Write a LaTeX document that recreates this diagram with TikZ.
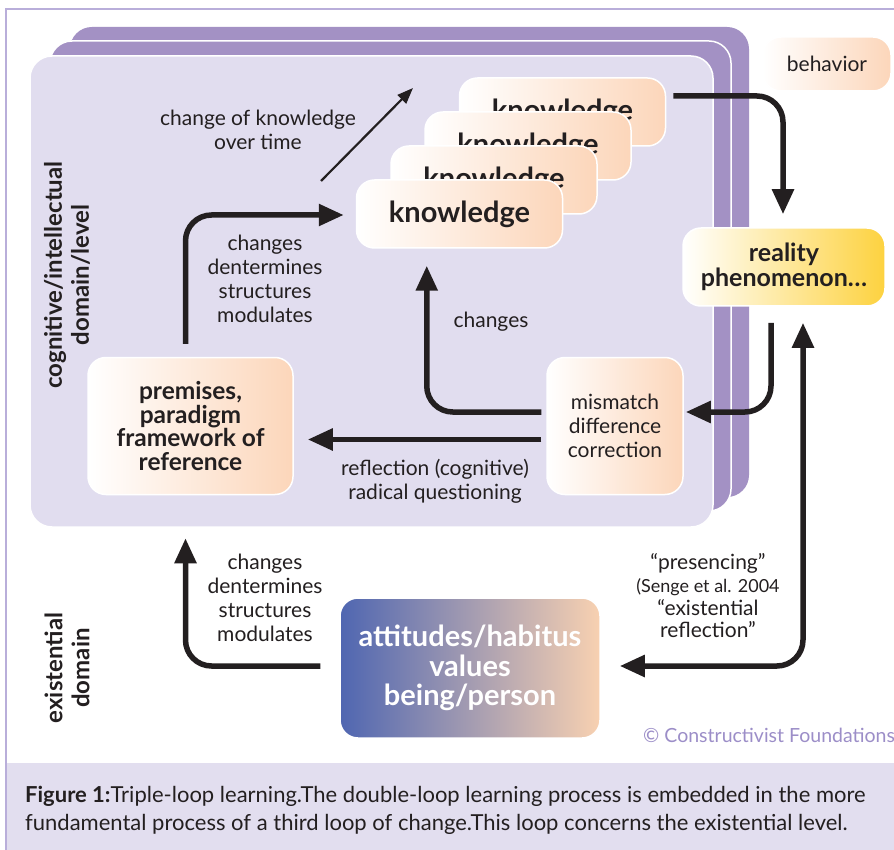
\documentclass[tikz,border=0pt]{standalone}
\usepackage{fontspec}
\setmainfont{Lato}
\usetikzlibrary{arrows.meta,calc}
\definecolor{panelpurple}{HTML}{A391C4}
\definecolor{panellight}{HTML}{E1DDEF}
\definecolor{peach}{HTML}{FCD6BA}
\definecolor{gold}{HTML}{FDD23F}
\definecolor{bluev}{HTML}{4F66B1}
\definecolor{peachb}{HTML}{F8D1B1}
\definecolor{framec}{HTML}{B9AEDA}
\definecolor{copyc}{HTML}{9C8EC8}
\definecolor{capbg}{HTML}{E2DEEF}
\definecolor{ink}{HTML}{231F20}
\begin{document}
\begin{tikzpicture}[x=1pt,y=-1pt,
  pbox/.style={rounded corners=18pt, draw=white, line width=1.5pt, left color=white, right color=peach, align=center, inner sep=0pt, text=ink},
  knowbox/.style={pbox, minimum width=206pt, minimum height=68pt, font=\bfseries\fontsize{29}{30}\selectfont},
  lbl/.style={align=center, text=ink, font=\fontsize{21}{24}\selectfont},
  sidelbl/.style={rotate=90, align=center, text=ink, font=\bfseries\fontsize{24}{27}\selectfont},
  arr/.style={draw=ink, line width=5.5pt, rounded corners=26pt, -{Triangle[length=25pt,width=21pt]}},
  arrboth/.style={draw=ink, line width=5.5pt, rounded corners=26pt, {Triangle[length=25pt,width=21pt]}-{Triangle[length=25pt,width=21pt]}},
  thinarr/.style={draw=ink, line width=2.2pt, -{Triangle[length=16pt,width=12pt]}},
  panel/.style={rounded corners=22pt}
]
\useasboundingbox (0,0) rectangle (894,850);
\fill[white] (0,0) rectangle (894,850);
% caption band and frame
\fill[capbg] (6,763) rectangle (894,850);
\draw[framec, line width=1.5pt] (6,850) -- (6,9) -- (894,9);

% panels
\fill[panel, panelpurple] (70,27) rectangle (749,497);
\draw[panel, fill=panelpurple, draw=white, line width=1.5pt] (50,41) rectangle (731,511);
\draw[panel, fill=panellight, draw=white, line width=1.5pt] (30,56) rectangle (713,527);

% nodes
\node[pbox, minimum width=128pt, minimum height=54pt, font=\fontsize{21}{24}\selectfont] (behavior) at (827,64) {behavior};
\node[knowbox] (k4) at (562.5,112) {knowledge};
\node[knowbox] (k3) at (528,146) {knowledge};
\node[knowbox] (k2) at (494,180) {knowledge};
\node[knowbox] (k1) at (459.5,214) {knowledge};
\node[pbox, right color=gold, minimum width=202pt, minimum height=78pt, font=\bfseries\fontsize{25}{25}\selectfont] (reality) at (784,267) {reality\\phenomenon…};
\node[pbox, minimum width=205pt, minimum height=137pt, font=\bfseries\fontsize{24.5}{23.5}\selectfont] (premises) at (190.5,426) {premises,\\paradigm\\framework of\\reference};
\node[pbox, minimum width=136pt, minimum height=137pt, font=\fontsize{21}{24}\selectfont] (mismatch) at (615,426) {mismatch\\difference\\correction};
\node[pbox, left color=bluev, right color=peachb, text=white, minimum width=260pt, minimum height=140pt, font=\bfseries\fontsize{29}{29.5}\selectfont] (attitudes) at (470,668) {attitudes/habitus\\values\\being/person};

% side labels
\node[sidelbl] (cogn) at (67,275) {cognitive/intellectual\\domain/level};
\node[sidelbl] (exist) at (67,668) {existential\\domain};

% labels
\node[lbl] (lchk) at (258,130) {change of knowledge\\over time};
\node[lbl] (lch1) at (265,279) {changes\\dentermines\\structures\\modulates};
\node[lbl] (lch2) at (491,322) {changes};
\node[lbl] (lrefl) at (435,481) {reflection (cognitive)\\radical questioning};
\node[lbl] (lch3) at (265,598) {changes\\dentermines\\structures\\modulates};
\node[lbl, font=\fontsize{21}{22.7}\selectfont] (lpres) at (708,596) {“presencing”\\{\fontsize{18}{22.7}\selectfont(Senge et al. 2004}\\“existential\\reflection”};
\node[anchor=west, text=copyc, font=\fontsize{19.5}{24}\selectfont, inner sep=0pt] (copy) at (643,735) {© Constructivist Foundations};

% caption
\node[anchor=west, align=left, text=ink, inner sep=0pt, font=\fontsize{22}{28}\selectfont] (caption) at (25,810) {\textbf{Figure 1:}Triple-loop learning.The double-loop learning process is embedded in the more\\fundamental process of a third loop of change.This loop concerns the existential level.};

% arrows
\coordinate (t0) at (321,181);
\coordinate (t1) at (413,88);
\draw[thinarr] (t0) -- (t1);
\draw[arr] ($(k4.east)+(7,-16)$) -| ($(reality.north)+(-1,-13)$);
\draw[arr] ($(reality.south)+(-13,16)$) |- ($(mismatch.east)+(2,-14)$);
\draw[arrboth] ($(reality.south)+(19,16)$) |- ($(attitudes.east)+(19,-2)$);
\draw[arr] ($(attitudes.west)+(-19,-2)$) -| ($(premises.south)+(-5,43)$);
\draw[arr] ($(premises.north)+(-5,-13)$) |- ($(k1.west)+(-12,1)$);
\draw[arr] ($(mismatch.west)+(-5,-14)$) -| ($(k1.south west)+(71,17)$);
\draw[arr] ($(mismatch.west)+(-5,13.5)$) -- ($(premises.east)+(14,13.5)$);
\end{tikzpicture}
\end{document}
